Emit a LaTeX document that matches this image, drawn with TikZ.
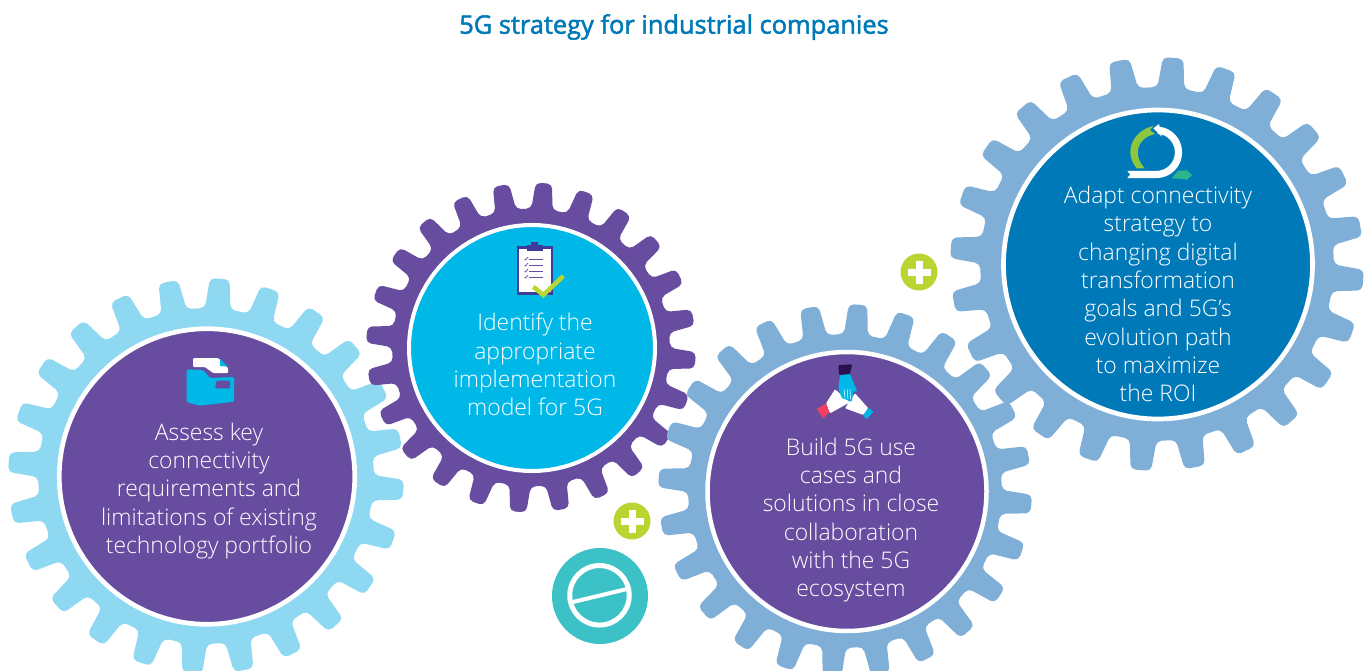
\documentclass[tikz,border=0pt]{standalone}
\usepackage{fontspec}
\setmainfont{Open Sans}[UprightFont=* Light]
\newfontfamily\titlefont{Open Sans}[FakeBold=2]
\definecolor{skygear}{HTML}{8FD8F2}
\definecolor{steelgear}{HTML}{7FAFD6}
\definecolor{violet}{HTML}{674C9F}
\definecolor{cyandisc}{HTML}{00B8E8}
\definecolor{bluedisc}{HTML}{0079B8}
\definecolor{lime}{HTML}{B9D531}
\definecolor{leaf}{HTML}{8DC63F}
\definecolor{mint}{HTML}{2DB48C}
\definecolor{tealdisc}{HTML}{3CC1C6}
\definecolor{indigo}{HTML}{3F3B9B}
\definecolor{cuffred}{HTML}{EF4060}
\definecolor{cuffdark}{HTML}{2A1250}
% outer radius, root radius, teeth, first tooth angle
\newcommand{\gearteeth}[4]{
  \pgfmathsetmacro{\gearstep}{360/#3}
  \fill[rounded corners=5pt] (#4-0.29*\gearstep:#2)
    \foreach \k in {1,...,#3} {
      \pgfextra{\pgfmathsetmacro{\a}{#4+(\k-1)*\gearstep}}
      -- (\a-0.29*\gearstep:#2) -- (\a-0.19*\gearstep:#1)
      -- (\a+0.19*\gearstep:#1) -- (\a+0.29*\gearstep:#2)
    } -- cycle;
}
\tikzset{
  disc/.style={circle,draw=white,inner sep=0pt},
  disctext/.style={align=center,text=white,font=\fontsize{22.9}{28.3}\selectfont},
  plusdisc/.style={circle,fill=lime,inner sep=0pt,minimum size=37pt},
  plusbar/.style={white,line width=7pt}
}
\begin{document}
\begin{tikzpicture}[x=1pt,y=1pt]
  \useasboundingbox (0,0) rectangle (1370,-671);
  \clip (0,0) rectangle (1370,-671);
  \node (title) at (674,-27) [text=bluedisc,font=\fontsize{25.4}{28}\titlefont] {5G strategy for industrial companies};

  % gears
  \begin{scope}[shift={(206,-476)},skygear]
    \gearteeth{198}{168}{24}{86}
  \end{scope}
  \begin{scope}[shift={(531,-347.5)},violet]
    \gearteeth{165}{139}{24}{85.5}
  \end{scope}
  \begin{scope}[shift={(845,-491)},steelgear]
    \gearteeth{187}{157}{24}{86}
  \end{scope}
  \begin{scope}[shift={(1157,-264)},steelgear]
    \gearteeth{207}{177}{24}{85.5}
  \end{scope}

  % discs
  \node (assess) at (207,-476.5) [disc,fill=violet,line width=4.7pt,minimum size=295.5pt] {};
  \node (identify) at (532,-348) [disc,fill=cyandisc,line width=4pt,minimum size=246pt] {};
  \node (build) at (847,-491.5) [disc,fill=violet,line width=4.5pt,minimum size=279pt] {};
  \node (adapt) at (1158,-264.5) [disc,fill=bluedisc,line width=4.7pt,minimum size=309pt] {};

  \node (assesstext) at (209,-491) [disctext] {Assess key\\connectivity\\requirements and\\limitations of existing\\technology portfolio};
  \node (identifytext) at (535,-364.5) [disctext] {Identify the\\appropriate\\implementation\\model for 5G};
  \node (buildtext) at (851,-520) [disctext] {Build 5G use\\cases and\\solutions in close\\collaboration\\with the 5G\\ecosystem};
  \node (adapttext) at (1158,-294) [disctext] {Adapt connectivity\\strategy to\\changing digital\\transformation\\goals and 5G's\\evolution path\\to maximize\\the ROI};

  % folder icon
  \fill[white,rounded corners=1pt] (193,-358) -- (218,-358) -- (228,-368) -- (228,-373) -- (213,-373) -- (205,-367) -- (193,-367) -- cycle;
  \fill[cyandisc] (220,-359) -- (227.7,-366.7) -- (220,-366) -- cycle;
  \fill[cyandisc,rounded corners=1.5pt] (186.7,-369.3) -- (203,-370) -- (210,-378) -- (234.3,-377) -- (234,-401.7) -- (200,-405.7) -- (186.7,-402.3) -- cycle;
  \fill[violet,rounded corners=1pt] (216.7,-380.7) -- (230,-380.7) -- (230,-388.3) -- (215,-388.3) -- cycle;

  % clipboard icon
  \fill[indigo] (516.7,-246) rectangle (553.3,-295);
  \fill[white] (519,-249) rectangle (550.7,-291.7);
  \fill[indigo] (527.3,-245) rectangle (542.7,-251);
  \fill[indigo] (531,-241.7) rectangle (538.3,-245);
  \foreach \y in {259,265,271,277} {
    \draw[violet,line width=0.8pt] (529,-\y) -- (543,-\y);
    \draw[violet,line width=0.7pt] (524.5,-\y) -- (525.5,-\y-1) -- (528,-\y+2);
  }
  \draw[lime,line width=4.5pt] (533.3,-286.7) -- (543.3,-295) -- (563.3,-276);

  % hands icon
  \fill[white,rounded corners=1pt] (826,-403.3) -- (835,-389.3) -- (850,-402.3) -- (830,-413.3) -- cycle;
  \fill[white,rounded corners=1pt] (855,-393.3) -- (868.3,-408.3) -- (863.3,-415) -- (845,-408.3) -- cycle;
  \fill[cyandisc,rounded corners=1pt] (840,-375) -- (850,-374) -- (857.3,-391.7) -- (853.5,-391) -- (851.7,-401.7) -- (841.7,-398) -- (838.3,-388.3) -- cycle;
  \draw[white,line width=0.5pt] (844,-389) -- (845,-398);
  \draw[white,line width=0.5pt] (847,-389) -- (848,-399);
  \draw[white,line width=0.5pt] (850,-389) -- (850.5,-399);
  \fill[cuffdark,rounded corners=1pt] (838.3,-365) -- (852.3,-364.3) -- (850,-374) -- (839,-375) -- cycle;
  \fill[cuffred] (816.7,-409) -- (826,-403.3) -- (829.3,-412.3) -- (823.3,-418.3) -- cycle;
  \fill[cyandisc] (868.3,-407.7) -- (873.3,-411.7) -- (866.7,-419) -- (863.3,-415.7) -- cycle;

  % cycle icon
  \fill[leaf] (1153.3,-126) .. controls (1135,-130) and (1122,-150) .. (1136.7,-168.5) -- (1145,-168.5) .. controls (1132,-155) and (1137,-138) .. (1155,-134) -- (1150,-130) -- cycle;
  \fill[mint] (1171.7,-178.3) -- (1178,-170.7) -- (1185.7,-170.7) -- (1185.7,-169.3) -- (1192.3,-175) -- (1185.7,-180.7) -- (1185.7,-179.3) -- cycle;
  \draw[white,line width=7.2pt] (1127.3,-174.5) -- (1156.3,-174.5) arc (-90:85:22.2);
  \fill[white] (1153.3,-128.3) -- (1159,-124) -- (1161.7,-136.5) -- cycle;
  \fill[bluedisc] (1127,-171) -- (1130,-174.5) -- (1127,-178) -- cycle;

  % plus signs
  \node (plusone) at (632,-521) [plusdisc] {};
  \draw[plusbar] (620.5,-521) -- (643.5,-521);
  \draw[plusbar] (632,-509.5) -- (632,-532.5);
  \node (plustwo) at (919,-272) [plusdisc] {};
  \draw[plusbar] (907.5,-272) -- (930.5,-272);
  \draw[plusbar] (919,-260.5) -- (919,-283.5);

  % teal badge
  \node (badge) at (600,-596) [circle,fill=tealdisc,inner sep=0pt,minimum size=96pt] {};
  \node (badgering) at (599.5,-595.3) [circle,draw=white,line width=5pt,inner sep=0pt,minimum size=59.5pt] {};
  \draw[white,line width=4pt] (573,-602) -- (627,-589);
\end{tikzpicture}
\end{document}
